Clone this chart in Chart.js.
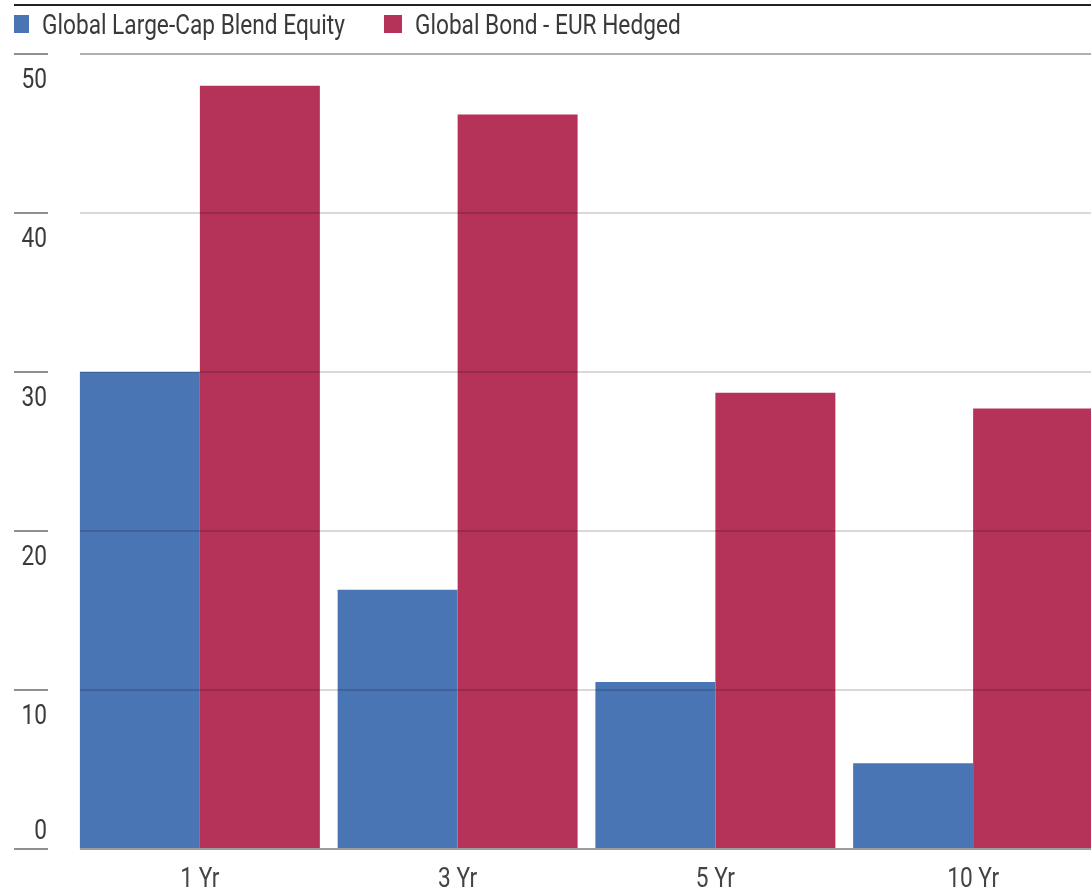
<!DOCTYPE html>
<html>
<head>
<meta charset="utf-8">
<script src="https://cdn.jsdelivr.net/npm/chart.js@4.4.1/dist/chart.umd.min.js"></script>
<style>
  html, body { margin: 0; padding: 0; background: #ffffff; overflow: hidden; }
  #wrap { width: 1102px; height: 890px; }
</style>
</head>
<body>
<div id="wrap"><canvas id="chart" width="1102" height="890"></canvas></div>
<script>
// Trailing returns by period, per category
const categories = ['1 Yr', '3 Yr', '5 Yr', '10 Yr'];
const seriesNames = ['Global Large-Cap Blend Equity', 'Global Bond - EUR Hedged'];
const equityValues = [30.0, 16.3, 10.5, 5.4];
const bondValues = [48.0, 46.2, 28.7, 27.7];
const yTicks = [0, 10, 20, 30, 40, 50];

const seriesColors = ['#4a75b4', '#b53259'];
const FONT = 'Roboto, "Liberation Sans", sans-serif';
const FONT_SIZE = 27;
const TEXT_SQUEEZE = 0.84; // condensed look for all chart text

// Draw a string horizontally condensed, anchored at (x, baseline y)
function condensedText(ctx, text, x, y, align) {
  ctx.save();
  ctx.translate(x, y);
  ctx.scale(TEXT_SQUEEZE, 1);
  ctx.textAlign = align;
  ctx.textBaseline = 'alphabetic';
  ctx.fillText(text, 0, 0);
  ctx.restore();
}

// Axis decorations: short tick rules at the far left, labels sitting inside
// each band, horizontal rules over the bars, category labels, top frame line
// and legend row.
const framePlugin = {
  id: 'frame',
  afterDatasetsDraw(chart) {
    const ctx = chart.ctx;
    const yScale = chart.scales.y;
    const xScale = chart.scales.x;
    const firstBar = chart.getDatasetMeta(0).data[0];
    const ruleStart = Math.round(firstBar.x - firstBar.width / 2);
    const ruleEnd = chart.width;

    ctx.save();
    ctx.font = FONT_SIZE + 'px ' + FONT;
    yTicks.forEach(v => {
      const py = Math.round(yScale.getPixelForValue(v));
      // short rule beside the label
      ctx.fillStyle = '#8f8f8f';
      ctx.fillRect(14, py - 1, 34, 2);
      // rule across the plot
      if (v === 0) {
        ctx.fillStyle = '#9c9c9c';
      } else if (v === yTicks[yTicks.length - 1]) {
        ctx.fillStyle = '#b0b0b0';
      } else {
        ctx.fillStyle = 'rgba(0,0,0,0.15)';
      }
      ctx.fillRect(ruleStart, py - 1, ruleEnd - ruleStart, 2);
      // label: inside the band above the rule, except the lowest one
      ctx.fillStyle = '#3a3a3a';
      const baseline = v === 0 ? py - 10 : py + 34;
      condensedText(ctx, String(v), 47, baseline, 'right');
    });

    // category labels under the baseline
    ctx.fillStyle = '#444444';
    chart.data.labels.forEach((label, i) => {
      condensedText(ctx, label, xScale.getPixelForTick(i), 887, 'center');
    });
    ctx.restore();
  },
  afterDraw(chart) {
    const ctx = chart.ctx;
    ctx.save();
    // everything in the header starts at the frame's left edge
    ctx.beginPath();
    ctx.rect(14, 0, chart.width - 14, 50);
    ctx.clip();
    // top frame line
    ctx.fillStyle = '#222222';
    ctx.fillRect(14, 4, chart.width - 14, 2);
    // legend row
    ctx.font = FONT_SIZE + 'px ' + FONT;
    let x = 11;
    chart.data.datasets.forEach(ds => {
      ctx.fillStyle = ds.backgroundColor;
      ctx.fillRect(x, 15, 18, 18);
      ctx.fillStyle = '#3a3a3a';
      condensedText(ctx, ds.label, x + 31, 34, 'left');
      x += 31 + ctx.measureText(ds.label).width * TEXT_SQUEEZE + 39;
    });
    ctx.restore();
  }
};

new Chart(document.getElementById('chart'), {
  type: 'bar',
  data: {
    labels: categories,
    datasets: [
      { label: seriesNames[0], data: equityValues, backgroundColor: seriesColors[0], borderWidth: 0 },
      { label: seriesNames[1], data: bondValues, backgroundColor: seriesColors[1], borderWidth: 0 }
    ]
  },
  options: {
    responsive: false,
    animation: false,
    devicePixelRatio: 1,
    events: [],
    layout: { padding: { left: 71, right: 0, top: 54, bottom: 41 } },
    datasets: {
      bar: { categoryPercentage: 0.931, barPercentage: 1.0 }
    },
    plugins: {
      legend: { display: false },
      tooltip: { enabled: false }
    },
    scales: {
      x: {
        display: false
      },
      y: {
        display: false,
        min: 0,
        max: 50
      }
    }
  },
  plugins: [framePlugin]
});
</script>
</body>
</html>
